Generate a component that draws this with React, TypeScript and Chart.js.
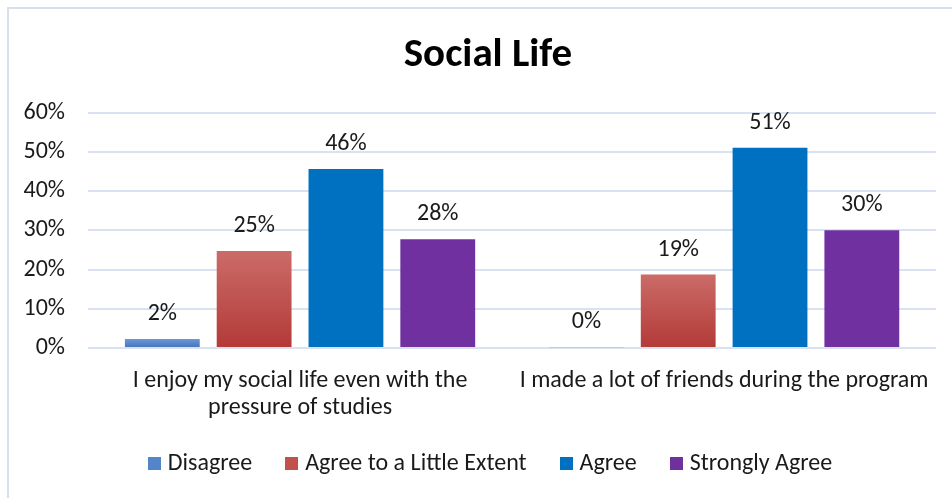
import React, { useEffect, useRef } from "react";
import { Chart, registerables } from "chart.js";

Chart.register(...registerables);

const categories: (string | string[])[] = [
  ["I enjoy my social life even with the", "pressure of studies"],
  "I made a lot of friends during the program",
];
const seriesNames = ["Disagree", "Agree to a Little Extent", "Agree", "Strongly Agree"];
const disagree = [2.3, 0.2];
const littleExtent = [24.7, 18.7];
const agree = [45.6, 51.0];
const stronglyAgree = [27.7, 30.0];
const yTicks = [0, 10, 20, 30, 40, 50, 60];
const chartTitle = "Social Life";

const FONT = "Carlito, Calibri, Lato, sans-serif";
const TEXT = "#1a1a1a";
const GRID = "#d9e2f0";
const legendColors = ["#5585c9", "#c2504d", "#0070c0", "#7030a0"];

function barGradient(top: string, bottom: string) {
  return (ctx: any) => {
    const chart = ctx.chart;
    const y = chart.scales && chart.scales.y;
    if (!y || ctx.raw === undefined) return bottom;
    const y0 = y.getPixelForValue(0);
    const y1 = y.getPixelForValue(ctx.raw);
    if (!isFinite(y0) || !isFinite(y1) || y0 === y1) return bottom;
    const g = chart.ctx.createLinearGradient(0, y1, 0, y0);
    g.addColorStop(0, top);
    g.addColorStop(1, bottom);
    return g;
  };
}

const labelPlugin = {
  id: "valueLabels",
  afterDatasetsDraw(chart: any) {
    const ctx = chart.ctx;
    ctx.save();
    ctx.font = `24px ${FONT}`;
    ctx.fillStyle = TEXT;
    ctx.textAlign = "center";
    ctx.textBaseline = "middle";
    chart.data.datasets.forEach((ds: any, i: number) => {
      const meta = chart.getDatasetMeta(i);
      meta.data.forEach((bar: any, j: number) => {
        const v = ds.data[j];
        ctx.fillText(`${Math.round(v)}%`, bar.x, bar.y - 25);
      });
    });
    ctx.restore();
  },
};

const titlePlugin = {
  id: "centerTitle",
  afterDraw(chart: any) {
    const ctx = chart.ctx;
    ctx.save();
    ctx.font = `bold 41px ${FONT}`;
    ctx.fillStyle = "#000000";
    ctx.textAlign = "center";
    ctx.textBaseline = "middle";
    ctx.fillText(chartTitle, 488, 56);
    ctx.restore();
  },
};

const legendPlugin = {
  id: "bottomLegend",
  afterDraw(chart: any) {
    const ctx = chart.ctx;
    ctx.save();
    ctx.font = `24px ${FONT}`;
    ctx.textBaseline = "middle";
    ctx.textAlign = "left";
    const box = 13, gapText = 7, gapItem = 33;
    const names = chart.data.datasets.map((d: any) => d.label as string);
    const widths = names.map((n: string) => ctx.measureText(n).width);
    let total = 0;
    widths.forEach((w: number, i: number) => {
      total += box + gapText + w + (i < widths.length - 1 ? gapItem : 0);
    });
    let x = 490 - total / 2;
    const cy = 463.5;
    names.forEach((n: string, i: number) => {
      ctx.fillStyle = legendColors[i];
      ctx.fillRect(Math.round(x), Math.round(cy - box / 2), box, box);
      ctx.fillStyle = TEXT;
      ctx.fillText(n, x + box + gapText, cy);
      x += box + gapText + widths[i] + gapItem;
    });
    ctx.restore();
  },
};

const framePlugin = {
  id: "frame",
  beforeDraw(chart: any) {
    const ctx = chart.ctx;
    ctx.save();
    ctx.fillStyle = "#ffffff";
    ctx.fillRect(0, 0, chart.width, chart.height);
    ctx.strokeStyle = "#d6e0ee";
    ctx.lineWidth = 2;
    ctx.strokeRect(8, 8, chart.width + 20, chart.height + 20);
    ctx.restore();
  },
};

export default function App() {
  const ref = useRef<HTMLCanvasElement>(null);
  useEffect(() => {
    if (!ref.current) return;
    const chart = new Chart(ref.current, {
      type: "bar",
      data: {
        labels: categories,
        datasets: [
          { label: seriesNames[0], data: disagree, backgroundColor: barGradient("#6b98d8", "#4372b8") },
          { label: seriesNames[1], data: littleExtent, backgroundColor: barGradient("#cb6b68", "#b33a37") },
          { label: seriesNames[2], data: agree, backgroundColor: "#0070c0" },
          { label: seriesNames[3], data: stronglyAgree, backgroundColor: "#7030a0" },
        ],
      },
      options: {
        responsive: false,
        animation: false,
        devicePixelRatio: 1,
        layout: { padding: { top: 112.5, right: 14, left: 0, bottom: 79 } },
        datasets: { bar: { categoryPercentage: 0.866, barPercentage: 0.815 } },
        plugins: {
          title: { display: false },
          legend: { display: false },
          tooltip: { enabled: false },
        },
        scales: {
          x: {
            grid: { display: false, drawTicks: false },
            border: { display: false },
            ticks: {
              color: TEXT,
              font: { family: FONT, size: 24, lineHeight: 1.1 },
              padding: 20,
              maxRotation: 0,
              autoSkip: false,
            },
            afterFit: (s: any) => { s.height = 71; },
          },
          y: {
            min: 0,
            max: 60,
            grid: { color: GRID, lineWidth: 2, drawTicks: false },
            border: { display: false },
            afterBuildTicks: (s: any) => { s.ticks = yTicks.map((v) => ({ value: v })); },
            ticks: { color: TEXT, font: { family: FONT, size: 24 }, padding: 23, callback: (v: any) => `${v}%` },
            afterFit: (s: any) => { s.width = 88; },
          },
        },
      },
      plugins: [framePlugin, labelPlugin, titlePlugin, legendPlugin],
    });
    return () => chart.destroy();
  }, []);
  return (
    <div style={{ position: "absolute", left: 0, top: 0, width: 952, height: 498 }}>
      <canvas ref={ref} width={952} height={498} />
    </div>
  );
}
